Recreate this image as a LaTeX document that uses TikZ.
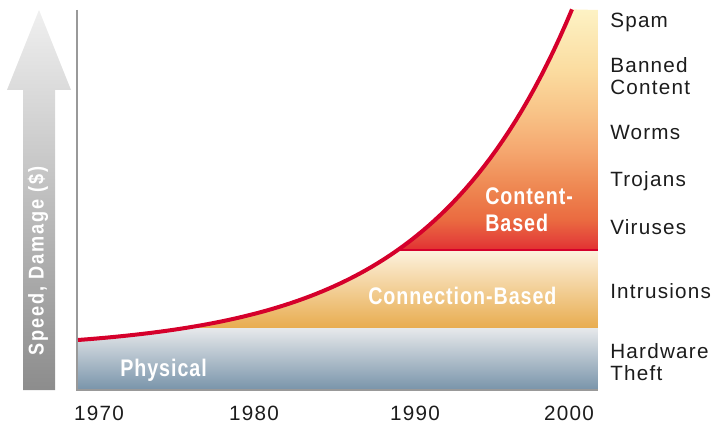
\documentclass[tikz,border=0pt]{standalone}
\usepackage{fontspec}
\setmainfont{Liberation Sans}
\newfontfamily\threatfont[LetterSpace=6]{Liberation Sans}
\newfontfamily\bandfont[FakeStretch=0.82,LetterSpace=4]{Liberation Sans}
\newfontfamily\axisfont[FakeStretch=0.85,LetterSpace=9]{Liberation Sans}
\definecolor{riskred}{HTML}{D5002B}
\definecolor{axisgray}{HTML}{999999}
\definecolor{labelgray}{HTML}{1C1C1C}
\pgfdeclareverticalshading{contentshade}{100bp}{
  rgb(0bp)=(0.886,0.188,0.188); rgb(25bp)=(0.886,0.188,0.188);
  rgb(27bp)=(0.894,0.267,0.227); rgb(31.25bp)=(0.918,0.416,0.251);
  rgb(37.5bp)=(0.933,0.522,0.314); rgb(46bp)=(0.961,0.659,0.439);
  rgb(54bp)=(0.973,0.769,0.533); rgb(62.5bp)=(0.984,0.863,0.627);
  rgb(75bp)=(0.992,0.949,0.769); rgb(100bp)=(0.992,0.949,0.769)}
\begin{document}
\begin{tikzpicture}[x=0.75pt,y=-0.75pt]
% Definição de estilos
\tikzset{
  band/.style={draw=none, shading=axis},
  bandlabel/.style={anchor=base west, inner sep=0pt, text=white, align=left,
    font=\bandfont\bfseries\fontsize{18}{20.25}\selectfont},
  threat/.style={anchor=base west, inner sep=0pt, text=labelgray, align=left,
    font=\threatfont\fontsize{15.5}{16.5}\selectfont},
  year/.style={anchor=base, inner sep=0pt, text=labelgray,
    font=\threatfont\fontsize{15.5}{16.5}\selectfont},
  riskcurve/.style={draw=riskred, line width=3pt}
}
\useasboundingbox (0,0) rectangle (713,427);

% Seta do eixo vertical
\shade[top color=white!88!gray, bottom color=black!45]
  (23,390) -- (23,90) -- (7,90) -- (39,10) -- (71,90) -- (55,90) -- (55,390) -- cycle;
\node[rotate=90, text=white, inner sep=0pt, font=\axisfont\bfseries\fontsize{16}{17}\selectfont]
  (axislabel) at (38,261) {Speed, Damage (\$)};

% Faixas sob a curva
\begin{scope}
\clip plot[domain=78:572, samples=80] (\x,{340-10.73*(exp(0.007*(\x-78))-1)})
  -- (598,10) -- (598,389) -- (78,389) -- cycle;
\shade[shading=contentshade] (78,10) rectangle (598,250);
\fill[band, top color={rgb,255:red,253;green,242;blue,222}, bottom color={rgb,255:red,232;green,172;blue,79}]
  (78,250) rectangle (598,328);
\fill[band, top color={rgb,255:red,231;green,233;blue,235}, bottom color={rgb,255:red,122;green,149;blue,171}]
  (78,328) rectangle (598,389);
\end{scope}

% Eixos
\draw[axisgray, line width=1.5pt] (77,10) -- (77,390) -- (598,390);

% Curva de risco
\coordinate (split) at (398,250);
\coordinate (splitend) at (598,250);
\draw[riskred, line width=2.2pt] (split) -- (splitend);
\draw[riskcurve] plot[domain=78:572, samples=80] (\x,{340-10.73*(exp(0.007*(\x-78))-1)});

% Rótulos das faixas
\node[bandlabel] (physical) at (120,376) {Physical};
\node[bandlabel] (connection) at (368,305) {Connection-Based};
\node[bandlabel] (content) at (485,232) {Content-\\Based};

% Ameaças
\node[threat] (spam) at (610,28) {Spam};
\node[threat] (banned) at (610,95) {Banned\\Content};
\node[threat] (worms) at (610,140) {Worms};
\node[threat] (trojans) at (610,187) {Trojans};
\node[threat] (viruses) at (610,235) {Viruses};
\node[threat] (intrusions) at (610,299) {Intrusions};
\node[threat] (hardware) at (610,380) {Hardware\\Theft};

% Anos
\node[year] (y1970) at (99,420) {1970};
\node[year] (y1980) at (254,420) {1980};
\node[year] (y1990) at (415,420) {1990};
\node[year] (y2000) at (569,420) {2000};

\end{tikzpicture}
\end{document}
